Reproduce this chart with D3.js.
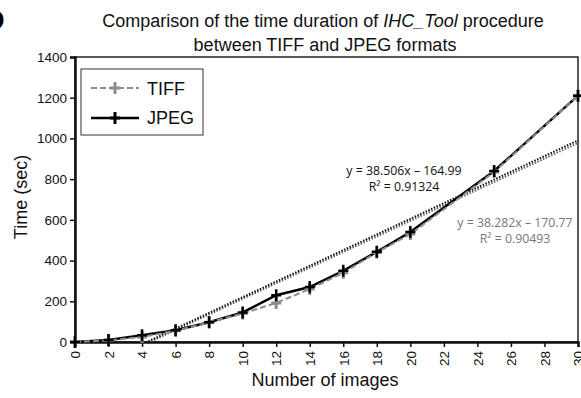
<!DOCTYPE html>
<html><head><meta charset="utf-8">
<script src="https://cdn.jsdelivr.net/npm/d3@7"></script>
<style>body{margin:0;background:#fff}svg{display:block}</style>
</head><body>
<script>
const xValues = [0,2,4,6,8,10,12,14,16,18,20,25,30];
const tiffValues = [0,8,25,55,97,140,192,260,340,440,530,835,1210];
const jpegValues = [0,10,33,58,97,145,230,270,350,443,540,840,1210];
const xTicks = d3.range(0,31,2);
const yTicks = [0,200,400,600,800,1000,1200,1400];
const tiffFit = {slope:38.282, intercept:-170.77, r2:"0.90493"};
const jpegFit = {slope:38.506, intercept:-164.99, r2:"0.91324"};

const W=581,H=398;
const svg=d3.select("body").append("svg").attr("width",W).attr("height",H);
const L=75,R=578,T=57,B=342;
const x=d3.scaleLinear().domain([0,30]).range([L,R]);
const y=d3.scaleLinear().domain([0,1400]).range([B,T]);
const font="Liberation Sans, Arial, sans-serif";

// panel letter
svg.append("text").attr("x",-17).attr("y",30).attr("font-family",font).attr("font-weight","bold").attr("font-size",30).text("D");

// title
const t=svg.append("text").attr("text-anchor","middle").attr("font-family",font).attr("font-size",18).attr("fill","#111");
const t1=t.append("tspan").attr("x",323).attr("y",27);
t1.append("tspan").text("Comparison of the time duration of ");
t1.append("tspan").attr("font-style","italic").text("IHC_Tool");
t1.append("tspan").text(" procedure");
svg.append("text").attr("text-anchor","middle").attr("font-family",font).attr("font-size",18).attr("fill","#111")
 .attr("x",325).attr("y",51).text("between TIFF and JPEG formats");

// plot border
svg.append("rect").attr("x",L).attr("y",T).attr("width",R-L).attr("height",B-T).attr("fill","none").attr("stroke","#222").attr("stroke-width",1.5);

// axes
const ya=svg.append("g").attr("transform",`translate(${L},0)`).call(d3.axisLeft(y).tickValues(yTicks).tickSize(5).tickFormat(d3.format("d")));
ya.select(".domain").attr("stroke","#111").attr("stroke-width",2.5);
ya.selectAll("text").attr("font-family",font).attr("font-size",13.5).attr("fill","#111");
ya.selectAll("line").attr("stroke","#111").attr("stroke-width",1.5);

const xa=svg.append("g").attr("transform",`translate(0,${B})`).call(d3.axisBottom(x).tickValues(xTicks).tickSize(5).tickFormat(d3.format("d")));
xa.select(".domain").attr("stroke","#111").attr("stroke-width",2.5);
xa.selectAll("line").attr("stroke","#111").attr("stroke-width",1.5);
xa.selectAll("text").attr("font-family",font).attr("font-size",13.5).attr("fill","#111")
  .attr("transform","rotate(-90)").attr("text-anchor","end").attr("x",-9).attr("y",0).attr("dy","0.35em");

svg.append("text").attr("x",325).attr("y",386).attr("text-anchor","middle").attr("font-family",font).attr("font-size",18).attr("fill","#111").text("Number of images");
svg.append("text").attr("transform","translate(27,197) rotate(-90)").attr("text-anchor","middle").attr("font-family",font).attr("font-size",18).attr("fill","#111").text("Time (sec)");

// clip
svg.append("clipPath").attr("id","clip").append("rect").attr("x",L).attr("y",T).attr("width",R-L).attr("height",B-T);
const plot=svg.append("g").attr("clip-path","url(#clip)");

// trendlines
function trend(f,color){
  plot.append("line").attr("x1",x(0)).attr("y1",y(f.intercept)).attr("x2",x(30)).attr("y2",y(f.slope*30+f.intercept))
   .attr("stroke",color).attr("stroke-width",2).attr("stroke-dasharray","1.5,1.5");
}
trend(tiffFit,"#666");
trend(jpegFit,"#111");

const line=d3.line().x(d=>x(d[0])).y(d=>y(d[1]));
const tiffPts=xValues.map((v,i)=>[v,tiffValues[i]]);
const jpegPts=xValues.map((v,i)=>[v,jpegValues[i]]);

svg.append("path").datum(jpegPts).attr("d",line).attr("fill","none").attr("stroke","#000").attr("stroke-width",2.5);
svg.append("path").datum(tiffPts).attr("d",line).attr("fill","none").attr("stroke","#8c8c8c").attr("stroke-width",2).attr("stroke-dasharray","6,3");

function markers(pts,color,w){
  const g=svg.append("g");
  pts.forEach(p=>{
    const cx=x(p[0]),cy=y(p[1]);
    g.append("path").attr("d",`M${cx-5},${cy}H${cx+5}M${cx},${cy-6}V${cy+6}`).attr("stroke",color).attr("stroke-width",w);
  });
}
markers(tiffPts,"#8c8c8c",3);
markers(jpegPts,"#000",2.5);

// equation labels
const eq=(xc,yb,color,f)=>{
  const s=Math.abs(f.intercept).toFixed(2);
  svg.append("text").attr("x",xc).attr("y",yb).attr("text-anchor","middle").attr("font-family","Open Sans, sans-serif").attr("font-size",12.3).attr("fill",color)
   .text(`y = ${f.slope.toFixed(3)}x \u2013 ${s}`);
  svg.append("text").attr("x",xc).attr("y",yb+16).attr("text-anchor","middle").attr("font-family","Open Sans, sans-serif").attr("font-size",12.3).attr("fill",color)
   .text(`R\u00b2 = ${f.r2}`);
};
eq(404,175,"#111",jpegFit);
eq(515,227,"#777",tiffFit);

// legend
svg.append("rect").attr("x",81).attr("y",69).attr("width",122).attr("height",66).attr("fill","#fff").attr("stroke","#333").attr("stroke-width",1);
svg.append("line").attr("x1",91).attr("x2",139).attr("y1",88).attr("y2",88).attr("stroke","#8c8c8c").attr("stroke-width",2).attr("stroke-dasharray","6,3");
svg.append("path").attr("d",`M110,88H120M115,82V94`).attr("stroke","#8c8c8c").attr("stroke-width",3);
svg.append("line").attr("x1",91).attr("x2",139).attr("y1",118).attr("y2",118).attr("stroke","#000").attr("stroke-width",2.5);
svg.append("path").attr("d",`M110,118H120M115,112V124`).attr("stroke","#000").attr("stroke-width",3);
svg.append("text").attr("x",147).attr("y",95).attr("font-family",font).attr("font-size",18).attr("fill","#111").text("TIFF");
svg.append("text").attr("x",147).attr("y",124).attr("font-family",font).attr("font-size",18).attr("fill","#111").text("JPEG");
</script>
</body></html>
